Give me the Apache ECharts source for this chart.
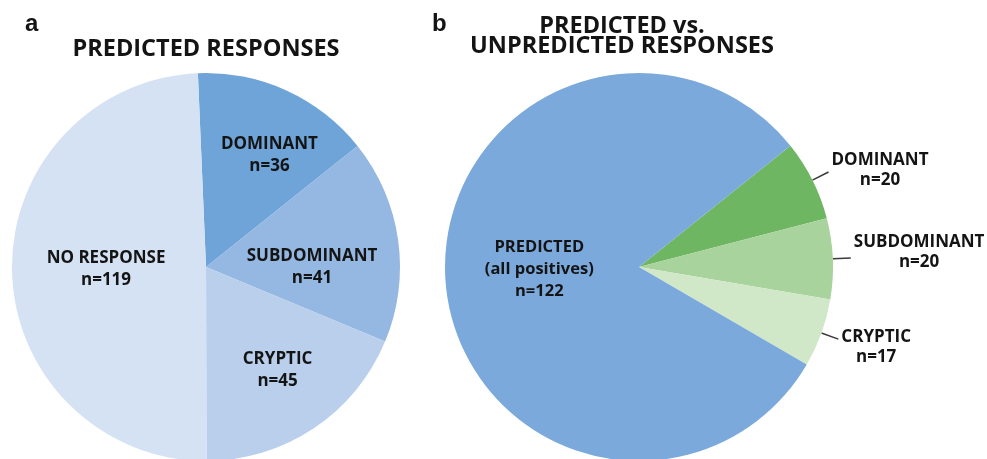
<!DOCTYPE html>
<html>
<head>
<meta charset="utf-8">
<script src="https://cdn.jsdelivr.net/npm/echarts@6/dist/echarts.min.js"></script>
<style>
html, body { margin: 0; background: #fff; }
#main { width: 987px; height: 459px; }
</style>
</head>
<body>
<div id="main"></div>
<script>
// panel a: predicted responses
var aNames = ['DOMINANT', 'SUBDOMINANT', 'CRYPTIC', 'NO RESPONSE'];
var aValues = [36, 41, 45, 119];

// panel b: predicted vs unpredicted
// slice sizes as drawn (predicted slice is drawn bigger than its n), counts as printed
var bNames = ['DOMINANT', 'SUBDOMINANT', 'CRYPTIC', 'PREDICTED\n(all positives)'];
var bValues = [20, 20, 17, 241];
var bCounts = [20, 20, 17, 122];

var aColors = ['#6fa4d9', '#94b8e2', '#b9cfec', '#d4e2f3'];
var bColors = ['#6fb663', '#a9d39c', '#d0e7c8', '#7ba9db'];

var font = '"Open Sans", "Noto Sans", sans-serif';
var ink = '#141414';

// nudges for the labels
var aShift = [[22, -21], [7, 14], [16, 20], [0, 0]];
var bShift = [[0, -2], [0, -6], [0, 8], [0, -5]];

var myChart = echarts.init(document.getElementById('main'));
var option = {
    animation: false,
    title: [
        { text: 'a', left: 25, top: 12, padding: 0,
          textStyle: { fontFamily: 'Liberation Sans', fontSize: 24, fontWeight: 'bold', color: ink } },
        { text: 'PREDICTED RESPONSES', left: 206, top: 37, padding: 0, textAlign: 'center',
          textStyle: { fontFamily: font, fontSize: 23.5, fontWeight: 'bold', color: ink } },
        { text: 'b', left: 432, top: 12, padding: 0,
          textStyle: { fontFamily: 'Liberation Sans', fontSize: 24, fontWeight: 'bold', color: ink } },
        { text: 'PREDICTED vs.\nUNPREDICTED RESPONSES', left: 622, top: 16, padding: 0, textAlign: 'center',
          textStyle: { fontFamily: font, fontSize: 23.5, fontWeight: 'bold', color: ink, lineHeight: 20 } }
    ],
    series: [
        {
            type: 'pie',
            center: [206, 267],
            radius: 194,
            startAngle: 92.4,
            avoidLabelOverlap: false,
            emphasis: { disabled: true },
            label: {
                position: 'inside',
                fontFamily: font,
                fontSize: 17,
                fontWeight: 'bold',
                lineHeight: 22,
                color: ink,
                formatter: '{b}\nn={c}'
            },
            labelLayout: function (p) {
                var s = aShift[p.dataIndex];
                return { dx: s[0], dy: s[1] };
            },
            data: aNames.map(function (n, i) {
                return { name: n, value: aValues[i], itemStyle: { color: aColors[i] } };
            })
        },
        {
            type: 'pie',
            center: [639, 267],
            radius: 194,
            startAngle: 38.7,
            avoidLabelOverlap: false,
            emphasis: { disabled: true },
            label: {
                position: 'outside',
                fontFamily: font,
                fontSize: 17,
                fontWeight: 'bold',
                lineHeight: 20,
                color: ink,
                distanceToLabelLine: 3,
                formatter: function (p) {
                    return '{t|' + p.name + '}\n{t|n=' + bCounts[p.dataIndex] + '}';
                },
                rich: {
                    t: { align: 'center', fontFamily: font, fontSize: 17, fontWeight: 'bold', lineHeight: 20, color: ink }
                }
            },
            labelLine: {
                show: true,
                length: 18,
                length2: 0,
                lineStyle: { color: '#3a3a3a', width: 1.5 }
            },
            labelLayout: function (p) {
                var s = bShift[p.dataIndex];
                return { dx: s[0], dy: s[1] };
            },
            data: bNames.map(function (n, i) {
                var d = { name: n, value: bValues[i], itemStyle: { color: bColors[i] } };
                if (i === 3) {
                    d.label = {
                        position: 'inside',
                        formatter: function (p) {
                            return p.name + '\nn=' + bCounts[p.dataIndex];
                        },
                        fontSize: 16.5,
                        lineHeight: 22
                    };
                    d.labelLine = { show: false };
                }
                return d;
            })
        }
    ]
};
myChart.setOption(option);
</script>
</body>
</html>
